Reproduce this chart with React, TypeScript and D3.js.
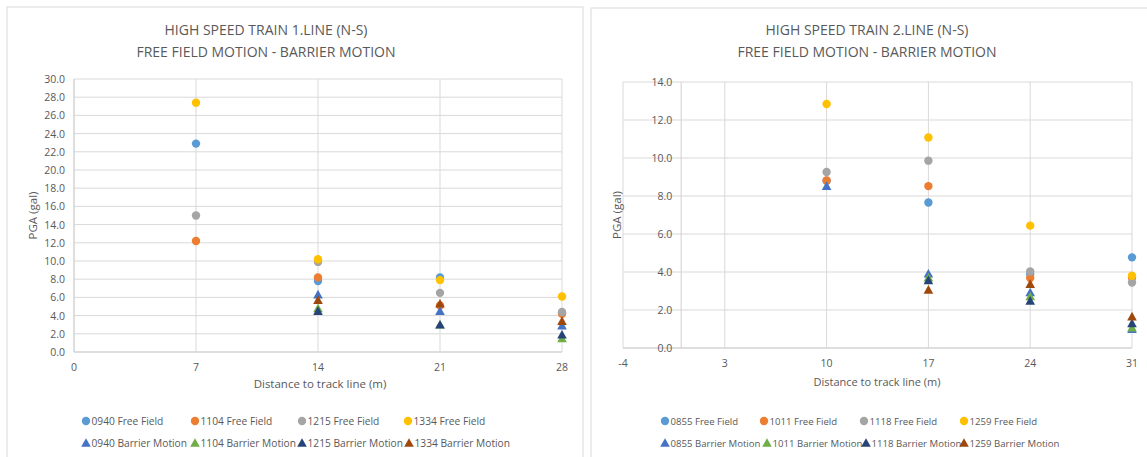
import React from "react";
import * as d3 from "d3";

// ---- Data: line 1 (distances 7, 14, 21, 28 m) ----
const line1Distances = [7, 14, 21, 28];
const line1Names = [
  "0940 Free Field", "1104 Free Field", "1215 Free Field", "1334 Free Field",
  "0940 Barrier Motion", "1104 Barrier Motion", "1215 Barrier Motion", "1334 Barrier Motion",
];
const ff0940 = [22.9, 7.8, 8.2, 4.3];
const ff1104 = [12.2, 8.2, 5.1, 4.2];
const ff1215 = [15.0, 9.9, 6.5, 4.4];
const ff1334 = [27.4, 10.2, 7.9, 6.1];
const bm0940 = [null, 6.3, 4.5, 2.9];
const bm1104 = [null, 4.8, 3.0, 1.5];
const bm1215 = [null, 4.5, 3.0, 1.9];
const bm1334 = [null, 5.7, 5.3, 3.4];
const line1Ticks = [0, 7, 14, 21, 28];
const line1YTicks = d3.range(0, 30.01, 2);

// ---- Data: line 2 (distances 10, 17, 24, 31 m) ----
const line2Distances = [10, 17, 24, 31];
const line2Names = [
  "0855 Free Field", "1011 Free Field", "1118 Free Field", "1259 Free Field",
  "0855 Barrier Motion", "1011 Barrier Motion", "1118 Barrier Motion", "1259 Barrier Motion",
];
const ff0855 = [8.8, 7.66, 3.9, 4.77];
const ff1011 = [8.82, 8.52, 3.68, 3.7];
const ff1118 = [9.26, 9.86, 4.03, 3.45];
const ff1259 = [12.84, 11.08, 6.44, 3.8];
const bm0855 = [8.52, 3.91, 2.92, 0.99];
const bm1011 = [null, 3.7, 2.71, 1.07];
const bm1118 = [null, 3.56, 2.48, 1.3];
const bm1259 = [null, 3.06, 3.36, 1.65];
const line2Ticks = [-4, 3, 10, 17, 24, 31];
const line2YTicks = d3.range(0, 14.01, 2);

const seriesColors = [
  "#5B9BD5", "#ED7D31", "#A5A5A5", "#FFC000",
  "#4472C4", "#70AD47", "#264478", "#9E480E",
];

const FONT = "'Open Sans', 'Noto Sans', sans-serif";
const TEXT = "#595959";
const GRID = "#D9D9D9";

type Panel = {
  box: [number, number, number, number];
  plot: { left: number; right: number; top: number; bottom: number };
  titleX: number;
  title: string;
  xDomain: [number, number];
  yMax: number;
  xTicks: number[];
  yTicks: number[];
  distances: number[];
  names: string[];
  values: (number | null)[][];
  yTitleX: number;
  xTitleX: number;
  xTitleY: number;
  xTitleSize: number;
  legendSize: number;
  legendRow1X: number[];
  legendRow2X: number[];
};

function Marker({ kind, x, y, color }: { kind: "circle" | "tri"; x: number; y: number; color: string }) {
  if (kind === "circle") return <circle cx={x} cy={y} r={4.2} fill={color} />;
  const s = 4.8;
  return <path d={`M${x},${y - s}L${x + s},${y + s * 0.8}L${x - s},${y + s * 0.8}Z`} fill={color} />;
}

function ScatterPanel({ p }: { p: Panel }) {
  const x = d3.scaleLinear().domain(p.xDomain).range([p.plot.left, p.plot.right]);
  const y = d3.scaleLinear().domain([0, p.yMax]).range([p.plot.bottom, p.plot.top]);
  const [bx, by, bw, bh] = p.box;
  // value-axis labels sit beside the vertical axis, which crosses at x = 0
  const yLabelX = x(0) - 9;
  return (
    <g>
      <rect x={bx} y={by} width={bw} height={bh} fill="#fff" stroke={GRID} strokeWidth={1} />
      {/* titles */}
      <text x={p.titleX} y={35} textAnchor="middle" fontSize={14} fill={TEXT} fontFamily={FONT}>{p.title}</text>
      <text x={p.titleX} y={57} textAnchor="middle" fontSize={14} fill={TEXT} fontFamily={FONT}>
        FREE FIELD MOTION - BARRIER MOTION
      </text>
      {/* horizontal gridlines */}
      {p.yTicks.map((t) => (
        <line key={"h" + t} x1={p.plot.left} x2={p.plot.right} y1={y(t)} y2={y(t)} stroke={GRID} strokeWidth={1} />
      ))}
      {/* vertical gridlines */}
      {p.xTicks.map((t) => (
        <line key={"v" + t} x1={x(t)} x2={x(t)} y1={p.plot.top} y2={p.plot.bottom} stroke={GRID} strokeWidth={1} />
      ))}
      {/* axes */}
      <line x1={x(0)} x2={x(0)} y1={p.plot.top} y2={p.plot.bottom} stroke="#D0D0D0" strokeWidth={1} />
      <line x1={p.plot.left} x2={p.plot.right} y1={y(0)} y2={y(0)} stroke="#D0D0D0" strokeWidth={1} />
      {/* tick labels */}
      {p.yTicks.map((t) => (
        <text key={"yl" + t} x={yLabelX} y={y(t) + 4} textAnchor="end" fontSize={10.5} fill={TEXT} fontFamily={FONT}>
          {d3.format(".1f")(t)}
        </text>
      ))}
      {p.xTicks.map((t) => (
        <text key={"xl" + t} x={x(t)} y={p.plot.bottom + 19} textAnchor="middle" fontSize={10.5} fill={TEXT} fontFamily={FONT}>
          {t}
        </text>
      ))}
      {/* axis titles */}
      <text
        transform={`translate(${p.yTitleX},${(p.plot.top + p.plot.bottom) / 2}) rotate(-90)`}
        textAnchor="middle" fontSize={11.5} fill={TEXT} fontFamily={FONT}
      >
        PGA (gal)
      </text>
      <text x={p.xTitleX} y={p.xTitleY} textAnchor="middle" fontSize={p.xTitleSize} fill={TEXT} fontFamily={FONT}>
        Distance to track line (m)
      </text>
      {/* markers */}
      {p.values.map((vals, si) =>
        vals.map((v, i) =>
          v == null ? null : (
            <Marker key={`${si}-${i}`} kind={si < 4 ? "circle" : "tri"} x={x(p.distances[i])} y={y(v)} color={seriesColors[si]} />
          )
        )
      )}
      {/* legend */}
      {p.names.map((name, si) => {
        const row = si < 4 ? 0 : 1;
        const lx = row === 0 ? p.legendRow1X[si] : p.legendRow2X[si - 4];
        const ly = row === 0 ? 421 : 443;
        return (
          <g key={"lg" + si}>
            <Marker kind={row === 0 ? "circle" : "tri"} x={lx} y={ly} color={seriesColors[si]} />
            <text x={lx + 5.5} y={ly + 4} fontSize={p.legendSize} fill={TEXT} fontFamily={FONT}>{name}</text>
          </g>
        );
      })}
    </g>
  );
}

export default function App() {
  const left: Panel = {
    box: [7, 7, 576, 460],
    plot: { left: 74, right: 562, top: 79, bottom: 352 },
    titleX: 266,
    title: "HIGH SPEED TRAIN 1.LINE (N-S)",
    xDomain: [0, 28],
    yMax: 30,
    xTicks: line1Ticks,
    yTicks: line1YTicks,
    distances: line1Distances,
    names: line1Names,
    values: [ff0940, ff1104, ff1215, ff1334, bm0940, bm1104, bm1215, bm1334],
    yTitleX: 37,
    xTitleX: 320,
    xTitleY: 388,
    xTitleSize: 11.5,
    legendSize: 10.2,
    legendRow1X: [86, 195, 302, 408],
    legendRow2X: [86, 195, 302, 409],
  };
  const right: Panel = {
    box: [591, 8, 570, 460],
    plot: { left: 623, right: 1132, top: 82, bottom: 348 },
    titleX: 867,
    title: "HIGH SPEED TRAIN 2.LINE (N-S)",
    xDomain: [-4, 31],
    yMax: 14,
    xTicks: line2Ticks,
    yTicks: line2YTicks,
    distances: line2Distances,
    names: line2Names,
    values: [ff0855, ff1011, ff1118, ff1259, bm0855, bm1011, bm1118, bm1259],
    yTitleX: 621,
    xTitleX: 877,
    xTitleY: 386,
    xTitleSize: 11,
    legendSize: 9.6,
    legendRow1X: [665, 764, 864, 964],
    legendRow2X: [665, 767, 866, 964],
  };
  return (
    <svg
      width={1147}
      height={457}
      style={{ position: "absolute", left: 0, top: 0, display: "block", background: "#fff" }}
    >
      <rect x={0} y={0} width={1147} height={457} fill="#fff" />
      <ScatterPanel p={left} />
      <ScatterPanel p={right} />
    </svg>
  );
}
